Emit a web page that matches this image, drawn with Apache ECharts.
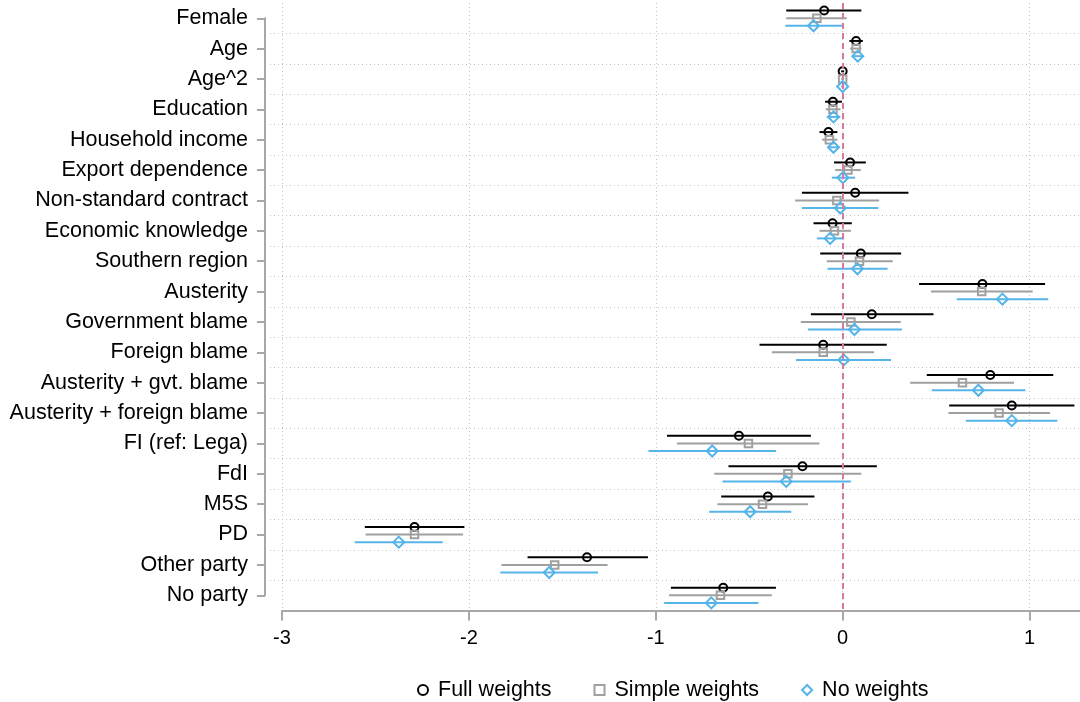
<!DOCTYPE html>
<html>
<head>
<meta charset="utf-8">
<script src="https://cdn.jsdelivr.net/npm/echarts@6/dist/echarts.min.js"></script>
<style>
  html, body { margin: 0; padding: 0; background: #fff; }
  #chart { width: 1080px; height: 702px; }
</style>
</head>
<body>
<div id="chart"></div>
<script>
// Coefficients with confidence intervals, three weighting schemes
const categories = [
  'Female', 'Age', 'Age^2', 'Education', 'Household income',
  'Export dependence', 'Non-standard contract', 'Economic knowledge',
  'Southern region', 'Austerity', 'Government blame', 'Foreign blame',
  'Austerity + gvt. blame', 'Austerity + foreign blame', 'FI (ref: Lega)',
  'FdI', 'M5S', 'PD', 'Other party', 'No party'
];

const fullEst = [-0.099, 0.072, 0.0, -0.052, -0.076, 0.04, 0.067, -0.054, 0.097, 0.748, 0.156, -0.104, 0.79, 0.905, -0.555, -0.215, -0.40, -2.291, -1.368, -0.639];
const fullLo  = [-0.302, 0.036, -0.008, -0.094, -0.124, -0.046, -0.218, -0.156, -0.12, 0.409, -0.17, -0.445, 0.45, 0.57, -0.94, -0.611, -0.65, -2.557, -1.686, -0.919];
const fullHi  = [0.10, 0.108, 0.008, -0.004, -0.028, 0.124, 0.352, 0.049, 0.313, 1.083, 0.486, 0.236, 1.127, 1.24, -0.17, 0.183, -0.151, -2.024, -1.042, -0.357];

const simpleEst = [-0.138, 0.072, 0.0, -0.052, -0.071, 0.028, -0.031, -0.044, 0.09, 0.744, 0.044, -0.104, 0.641, 0.837, -0.504, -0.293, -0.429, -2.291, -1.541, -0.654];
const simpleLo  = [-0.302, 0.04, -0.008, -0.09, -0.11, -0.04, -0.254, -0.124, -0.085, 0.472, -0.224, -0.379, 0.361, 0.566, -0.887, -0.687, -0.67, -2.553, -1.826, -0.929];
const simpleHi  = [0.022, 0.10, 0.008, -0.012, -0.028, 0.097, 0.195, 0.044, 0.268, 1.017, 0.311, 0.168, 0.917, 1.11, -0.124, 0.10, -0.186, -2.031, -1.258, -0.379];

const noEst = [-0.156, 0.081, 0.0, -0.049, -0.049, 0.001, -0.013, -0.067, 0.079, 0.855, 0.063, 0.006, 0.726, 0.905, -0.698, -0.302, -0.495, -2.375, -1.57, -0.703];
const noLo  = [-0.307, 0.055, -0.008, -0.085, -0.08, -0.058, -0.218, -0.138, -0.081, 0.611, -0.186, -0.249, 0.477, 0.659, -1.039, -0.643, -0.714, -2.611, -1.832, -0.955];
const noHi  = [-0.001, 0.107, 0.008, -0.013, -0.02, 0.067, 0.191, 0.008, 0.24, 1.10, 0.317, 0.259, 0.978, 1.149, -0.357, 0.044, -0.275, -2.14, -1.309, -0.45];

const xTicksMin = -3;
const xTicksMax = 1.27;

const FONT = 'Liberation Sans, Arial, Helvetica, sans-serif';
const AXIS_GRAY = '#a8a8a8';
const GRID_GRAY = '#c4c4c4';

const groups = [
  { name: 'Full weights',   est: fullEst,   lo: fullLo,   hi: fullHi,   color: '#000000', symbol: 'circle',  size: 8,        shift: -7.6 },
  { name: 'Simple weights', est: simpleEst, lo: simpleLo, hi: simpleHi, color: '#a0a0a0', symbol: 'rect',    size: 7.5,      shift: 0 },
  { name: 'No weights',     est: noEst,     lo: noLo,     hi: noHi,     color: '#56b4e9', symbol: 'diamond', size: [11, 11], shift: 7.6 }
];

const series = [];

// zero reference line
series.push({
  name: 'zero',
  type: 'scatter',
  xAxisIndex: 0, yAxisIndex: 0,
  data: [],
  z: 1,
  silent: true,
  markLine: {
    silent: true,
    symbol: 'none',
    label: { show: false },
    lineStyle: { color: '#d6789f', width: 2, type: [6, 4] },
    data: [{ xAxis: 0 }]
  }
});

groups.forEach(function (g) {
  // confidence interval bars
  series.push({
    name: g.name + ' CI',
    type: 'custom',
    xAxisIndex: 0, yAxisIndex: 0,
    z: 2,
    silent: true,
    encode: { x: [0, 1], y: 2 },
    data: categories.map(function (c, i) { return [g.lo[i], g.hi[i], c]; }),
    renderItem: function (params, api) {
      const a = api.coord([api.value(0), api.value(2)]);
      const b = api.coord([api.value(1), api.value(2)]);
      return {
        type: 'line',
        shape: { x1: a[0], y1: a[1] + g.shift, x2: b[0], y2: b[1] + g.shift },
        style: { stroke: g.color, lineWidth: 2 }
      };
    }
  });
  // point estimates
  series.push({
    name: g.name,
    type: 'scatter',
    xAxisIndex: 0, yAxisIndex: 0,
    z: 3,
    symbol: g.symbol,
    symbolSize: g.size,
    symbolOffset: [0, g.shift],
    itemStyle: { color: 'rgba(255,255,255,0)', borderColor: g.color, borderWidth: 2, opacity: 1 },
    data: categories.map(function (c, i) { return [g.est[i], c]; })
  });
});

const option = {
  animation: false,
  backgroundColor: '#ffffff',
  textStyle: { fontFamily: FONT },
  grid: [
    // plotting region
    { left: 282, right: 0, top: 3, bottom: 91.5 },
    // horizontal separators (reach slightly left of the plot)
    { left: 270, right: 0, top: 3, bottom: 91.5 },
    // category axis with labels
    { left: 265, width: 10, top: 18.3, bottom: 106.7 }
  ],
  xAxis: [
    {
      gridIndex: 0,
      type: 'value',
      min: xTicksMin,
      max: xTicksMax,
      interval: 1,
      axisLine: { show: true, lineStyle: { color: AXIS_GRAY, width: 2 } },
      axisTick: { show: true, length: 10, lineStyle: { color: AXIS_GRAY, width: 2 } },
      axisLabel: {
        color: '#000', fontSize: 20, fontFamily: FONT, margin: 18,
        showMaxLabel: false,
        formatter: function (v) { return Number.isInteger(v) ? String(v) : ''; }
      },
      splitLine: { show: true, showMaxLine: false, lineStyle: { color: GRID_GRAY, width: 1, type: [1, 3] } }
    },
    { gridIndex: 1, type: 'value', show: false, min: 0, max: 1 },
    { gridIndex: 2, type: 'value', show: false, min: 0, max: 1 }
  ],
  yAxis: [
    {
      gridIndex: 0,
      type: 'category',
      inverse: true,
      data: categories,
      axisLine: { show: false },
      axisTick: { show: false },
      axisLabel: { show: false },
      splitLine: { show: false }
    },
    {
      gridIndex: 1,
      type: 'category',
      inverse: true,
      data: categories,
      axisLine: { show: false },
      axisTick: { show: false },
      axisLabel: { show: false },
      splitLine: { show: true, showMinLine: false, showMaxLine: false, lineStyle: { color: GRID_GRAY, width: 1, type: [1, 3] } }
    },
    {
      gridIndex: 2,
      type: 'category',
      inverse: true,
      boundaryGap: false,
      data: categories,
      axisLine: { show: true, lineStyle: { color: AXIS_GRAY, width: 2 } },
      axisTick: { show: true, length: 8, inside: false, lineStyle: { color: AXIS_GRAY, width: 2 } },
      axisLabel: { color: '#000', fontSize: 21.5, fontFamily: FONT, margin: 17, interval: 0 },
      splitLine: { show: false }
    }
  ],
  legend: {
    left: 412,
    top: 674,
    itemWidth: 10,
    itemHeight: 10,
    itemGap: 42,
    textStyle: { color: '#000', fontSize: 21.5, fontFamily: FONT, padding: [0, 0, 0, 5] },
    data: groups.map(function (g) { return g.name; })
  },
  series: series
};

const chart = echarts.init(document.getElementById('chart'), null, { renderer: 'canvas' });
chart.setOption(option);
</script>
</body>
</html>
